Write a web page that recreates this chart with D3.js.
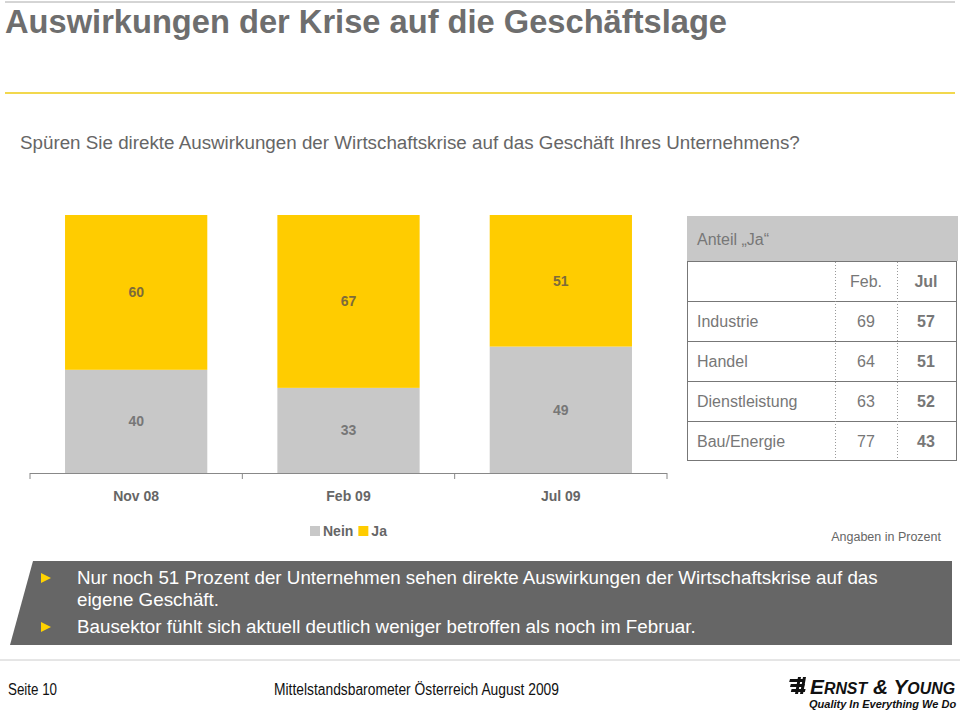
<!DOCTYPE html>
<html><head><meta charset="utf-8">
<script src="https://cdn.jsdelivr.net/npm/d3@7"></script>
<style>body{margin:0;background:#fff}svg{display:block}</style>
</head><body>
<svg id="c" width="960" height="714"></svg>
<script>
const categories = ["Nov 08", "Feb 09", "Jul 09"];
const neinValues = [40, 33, 49];
const jaValues = [60, 67, 51];
const seriesNames = ["Nein", "Ja"];
const tableRows = ["Industrie", "Handel", "Dienstleistung", "Bau/Energie"];
const tableFeb = [69, 64, 63, 77];
const tableJul = [57, 51, 52, 43];
const tableCols = ["Feb.", "Jul"];
const bullets = [
  ["Nur noch 51 Prozent der Unternehmen sehen direkte Auswirkungen der Wirtschaftskrise auf das", "eigene Geschäft."],
  ["Bausektor fühlt sich aktuell deutlich weniger betroffen als noch im Februar."]
];

const svg = d3.select("#c");
const F = "Liberation Sans, Arial, sans-serif";
const colors = {Nein: "#c8c8c8", Ja: "#ffcc00"};

// header lines
svg.append("line").attr("x1",5).attr("x2",955).attr("y1",2).attr("y2",2).attr("stroke","#aaa").attr("stroke-width",1);
svg.append("text").attr("x",5).attr("y",33).attr("font-family",F).attr("font-weight","bold")
  .attr("font-size",34).attr("fill","#6e6e6e").attr("textLength",722).attr("lengthAdjust","spacingAndGlyphs")
  .text("Auswirkungen der Krise auf die Geschäftslage");
svg.append("line").attr("x1",5).attr("x2",955).attr("y1",93).attr("y2",93).attr("stroke","#f2d84e").attr("stroke-width",2);

svg.append("text").attr("x",20).attr("y",149).attr("font-family",F).attr("font-size",18.8).attr("fill","#666")
  .text("Spüren Sie direkte Auswirkungen der Wirtschaftskrise auf das Geschäft Ihres Unternehmens?");

// chart
const x = d3.scaleBand().domain(categories).range([30, 667]).paddingInner(0.33).paddingOuter(0.165);
const y = d3.scaleLinear().domain([0, 100]).range([473, 215]);
const data = categories.map((c,i)=>({cat:c, Nein:neinValues[i], Ja:jaValues[i]}));
const stack = d3.stack().keys(seriesNames)(data);

const g = svg.append("g");
stack.forEach(layer=>{
  g.selectAll(null).data(layer).enter().append("rect")
    .attr("x",d=>x(d.data.cat)).attr("width",x.bandwidth())
    .attr("y",d=>y(d[1])).attr("height",d=>y(d[0])-y(d[1]))
    .attr("fill",colors[layer.key]);
  g.selectAll(null).data(layer).enter().append("text")
    .attr("x",d=>x(d.data.cat)+x.bandwidth()/2).attr("y",d=>(y(d[0])+y(d[1]))/2)
    .attr("dy","0.35em").attr("text-anchor","middle")
    .attr("font-family",F).attr("font-weight","bold").attr("font-size",14)
    .attr("fill", layer.key==="Ja" ? "#7d6b3a" : "#777")
    .text(d=>d.data[layer.key]);
});

// axis
const ax = svg.append("g");
ax.append("line").attr("x1",30).attr("x2",667).attr("y1",473.5).attr("y2",473.5).attr("stroke","#888");
const tickXs = [30].concat(categories.map((c,i)=>30 + (i+1)*(637/3)));
tickXs.forEach(t=>ax.append("line").attr("x1",t).attr("x2",t).attr("y1",473).attr("y2",479).attr("stroke","#888"));
categories.forEach(c=>ax.append("text").attr("x",x(c)+x.bandwidth()/2).attr("y",501).attr("text-anchor","middle")
  .attr("font-family",F).attr("font-weight","bold").attr("font-size",14).attr("fill","#666").text(c));

// legend
const lg = svg.append("g");
let lx = 310;
seriesNames.forEach(s=>{
  lg.append("rect").attr("x",lx).attr("y",526).attr("width",10).attr("height",10).attr("fill",colors[s]);
  const t = lg.append("text").attr("x",lx+13).attr("y",536).attr("font-family",F).attr("font-weight","bold")
    .attr("font-size",14).attr("fill","#666").text(s);
  lx += 13 + t.node().getComputedTextLength() + 5;
});

svg.append("text").attr("x",941).attr("y",541).attr("text-anchor","end").attr("font-family",F)
  .attr("font-size",12.5).attr("fill","#666").text("Angaben in Prozent");

// table
const tb = svg.append("g");
tb.append("rect").attr("x",687).attr("y",216).attr("width",271).attr("height",45).attr("fill","#c8c8c8");
tb.append("text").attr("x",697).attr("y",245).attr("font-family",F).attr("font-size",16).attr("fill","#777").text("Anteil „Ja“");
const rowY = d3.scaleBand().domain(["hdr"].concat(tableRows)).range([261, 461]);
tb.append("rect").attr("x",687.5).attr("y",261.5).attr("width",269).attr("height",199).attr("fill","#fff").attr("stroke","#777");
tableRows.forEach(r=>{
  tb.append("line").attr("x1",687).attr("x2",957).attr("y1",rowY(r)+0.5).attr("y2",rowY(r)+0.5).attr("stroke","#777").attr("stroke-width",1.2);
});
[835, 897].forEach(vx=>tb.append("line").attr("x1",vx+0.5).attr("x2",vx+0.5).attr("y1",262).attr("y2",460)
  .attr("stroke","#999").attr("stroke-dasharray","1,2"));
const colX = [866, 926];
tableCols.forEach((c,i)=>tb.append("text").attr("x",colX[i]).attr("y",rowY("hdr")+rowY.bandwidth()/2).attr("dy","0.35em")
  .attr("text-anchor","middle").attr("font-family",F).attr("font-size",16).attr("font-weight",i?"bold":"normal")
  .attr("fill","#777").text(c));
tableRows.forEach((r,i)=>{
  const cy = rowY(r)+rowY.bandwidth()/2;
  tb.append("text").attr("x",697).attr("y",cy).attr("dy","0.35em").attr("font-family",F).attr("font-size",16).attr("fill","#777").text(r);
  tb.append("text").attr("x",colX[0]).attr("y",cy).attr("dy","0.35em").attr("text-anchor","middle").attr("font-family",F).attr("font-size",16).attr("fill","#777").text(tableFeb[i]);
  tb.append("text").attr("x",colX[1]).attr("y",cy).attr("dy","0.35em").attr("text-anchor","middle").attr("font-family",F).attr("font-size",16).attr("font-weight","bold").attr("fill","#777").text(tableJul[i]);
});

// box
svg.append("path").attr("d","M33,561 L952,561 L952,645 L10,645 Z").attr("fill","#666");
let ly = 584;
bullets.forEach(b=>{
  svg.append("path").attr("d",`M41,${ly-11} L51,${ly-6} L41,${ly-1} Z`).attr("fill","#ffd200");
  b.forEach((line,j)=>{
    svg.append("text").attr("x",77).attr("y",ly).attr("font-family",F).attr("font-size",18.8).attr("fill","#fff").text(line);
    ly += 22;
  });
  ly += 5;
});

// footer
svg.append("line").attr("x1",0).attr("x2",960).attr("y1",660).attr("y2",660).attr("stroke","#ccc");
svg.append("text").attr("x",8).attr("y",695).attr("font-family",F).attr("font-size",16).attr("fill","#111")
  .attr("textLength",49).attr("lengthAdjust","spacingAndGlyphs").text("Seite 10");
svg.append("text").attr("x",274).attr("y",695).attr("font-family",F).attr("font-size",16).attr("fill","#111")
  .attr("textLength",285).attr("lengthAdjust","spacingAndGlyphs").text("Mittelstandsbarometer Österreich August 2009");
// logo
const lgo = svg.append("g");
[0,1,2].forEach(i=>lgo.append("path").attr("d",`M${790+i*0.8},${679+i*5} l14,0 l-0.8,3 l-14,0 Z`).attr("fill","#111"));
[0,1].forEach(i=>lgo.append("path").attr("d",`M${798+i*5},677 l3,0 l-3,17 l-3,0 Z`).attr("fill","#111"));
const lt = lgo.append("text").attr("x",810).attr("y",694).attr("font-family",F).attr("font-style","italic").attr("font-weight","bold")
  .attr("fill","#111").attr("textLength",145).attr("lengthAdjust","spacingAndGlyphs");
[["E",21],["RNST",16],["&",21],["Y",21],["OUNG",16]].forEach((p,i)=>lt.append("tspan").attr("font-size",p[1]).text((i===2?" ":"")+p[0]+(i===2?" ":"")));
lgo.append("text").attr("x",809).attr("y",708).attr("font-family",F).attr("font-style","italic").attr("font-weight","bold")
  .attr("font-size",11).attr("fill","#111").text("Quality In Everything We Do");
</script>
</body></html>
